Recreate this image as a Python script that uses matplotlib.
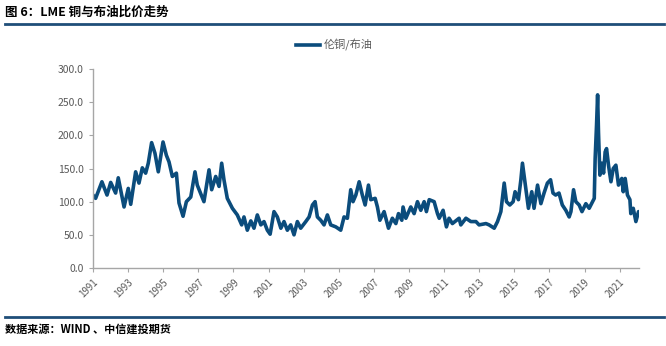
import matplotlib
matplotlib.use("Agg")
import matplotlib.pyplot as plt
from matplotlib.lines import Line2D

plt.rcParams['font.family'] = ['Noto Sans CJK SC', 'DejaVu Sans']

# LME copper / Brent ratio (decimal year, ratio)
years = [1991.00, 1991.15, 1991.51, 1991.80, 1992.01, 1992.29, 1992.44, 1992.77,
         1993.01, 1993.15, 1993.43, 1993.62, 1993.81, 1994.00, 1994.15, 1994.34,
         1994.53, 1994.72, 1994.99, 1995.18, 1995.33, 1995.52, 1995.75, 1995.90,
         1996.13, 1996.32, 1996.57, 1996.81, 1996.94, 1997.32, 1997.61, 1997.76,
         1997.99, 1998.18, 1998.33, 1998.46, 1998.65, 1998.94, 1999.22,
         1999.47, 1999.60, 1999.79, 1999.99, 2000.17, 2000.36, 2000.56, 2000.74,
         2000.93, 2001.09, 2001.31, 2001.50, 2001.70, 2001.88, 2002.07, 2002.26,
         2002.45, 2002.64, 2002.83, 2003.12, 2003.31, 2003.50, 2003.65, 2003.78,
         2003.97, 2004.16, 2004.35, 2004.54, 2004.83, 2005.11, 2005.30, 2005.49,
         2005.68, 2005.81, 2005.97, 2006.16, 2006.34, 2006.50, 2006.69, 2006.82,
         2007.07, 2007.20, 2007.34, 2007.58, 2007.83,
         2008.05, 2008.25, 2008.40, 2008.59, 2008.66, 2008.82, 2009.10, 2009.29,
         2009.48, 2009.67, 2009.86, 2009.99, 2010.15, 2010.43, 2010.62, 2010.72,
         2010.94, 2011.13, 2011.28, 2011.47, 2011.85, 2011.95, 2012.24, 2012.52,
         2012.81, 2012.99, 2013.38, 2013.56, 2013.85, 2014.04, 2014.23, 2014.42,
         2014.55, 2014.74, 2014.93, 2015.04, 2015.23, 2015.37, 2015.46, 2015.65,
         2015.80, 2015.99, 2016.12, 2016.32, 2016.51, 2016.69, 2016.88,
         2017.06, 2017.20, 2017.35, 2017.54, 2017.73, 2017.93, 2018.12, 2018.22,
         2018.37, 2018.50, 2018.69, 2018.85, 2019.07, 2019.26, 2019.45, 2019.55,
         2019.60, 2019.68, 2019.74, 2019.79, 2019.87, 2019.98, 2020.08, 2020.17,
         2020.25, 2020.36, 2020.50, 2020.63, 2020.78, 2020.93, 2021.12, 2021.20,
         2021.31, 2021.44, 2021.58, 2021.63, 2021.77, 2021.92, 2022.07, 2022.15]
ratio = [110, 105, 130, 110, 129, 113, 136, 92,
         120, 96, 145, 128, 151, 143, 158, 189,
         173, 145, 190, 170, 160, 138, 143, 98,
         78, 100, 107, 145, 125, 100, 148, 118,
         138, 123, 158, 133, 105, 90, 80,
         65, 77, 57, 71, 60, 80, 65, 70,
         57, 51, 85, 77, 60, 70, 57, 65,
         50, 70, 60, 70, 77, 95, 100, 77,
         72, 65, 80, 65, 62, 57, 77, 75,
         118, 100, 110, 130, 110, 95, 125, 103,
         105, 92, 72, 85, 60,
         75, 67, 82, 72, 92, 75, 92, 82,
         100, 87, 100, 85, 103, 100, 82, 75,
         87, 62, 75, 67, 75, 65, 75, 70,
         70, 65, 67, 65, 60, 70, 85, 128,
         100, 95, 100, 115, 103, 133, 158, 120,
         90, 115, 90, 125, 97, 113, 128,
         133, 113, 110, 113, 95, 87, 77, 85,
         118, 100, 95, 85, 97, 90, 100, 105,
         165, 216, 261, 205, 140, 158, 143, 175,
         180, 155, 130, 150, 155, 125, 135, 115,
         135, 110, 103, 82, 90, 70, 85, 82]

tick_years = list(range(1991, 2022, 2))
y_ticks = [0, 50, 100, 150, 200, 250, 300]

blue = '#0b4c7c'
grey = '#595959'
axis_grey = '#a6a6a6'

fig = plt.figure(figsize=(6.66, 3.46), dpi=100)
ax = fig.add_axes([0.1396, 0.2254, 0.8194, 0.5752])

ax.plot(years, ratio, color=blue, lw=2.6, label='伦铜/布油')

ax.set_xlim(1991.0, 2022.08)
ax.set_ylim(0, 300)
ax.set_yticks(y_ticks)
ax.set_yticklabels(['%.1f' % v for v in y_ticks], color=grey, fontsize=7.5)
ax.set_xticks(tick_years)
ax.set_xticklabels([str(y) for y in tick_years], color=grey, fontsize=7,
                   rotation=45, ha='right', rotation_mode='anchor')
ax.tick_params(axis='both', length=3, color=axis_grey, direction='out')
for s in ['top', 'right']:
    ax.spines[s].set_visible(False)
for s in ['left', 'bottom']:
    ax.spines[s].set_color(axis_grey)
    ax.spines[s].set_linewidth(1)

fig.legend(loc='center', bbox_to_anchor=(0.502, 0.87), frameon=False,
           fontsize=8, labelcolor=grey, handlelength=2.2, handletextpad=0.3)

# title and source
fig.text(0.008, 0.965, '图 6：LME 铜与布油比价走势', fontsize=9, fontweight='bold',
         va='center', ha='left', color='black')
fig.add_artist(Line2D([0.008, 0.997], [0.932, 0.932], color='#1f4e79', lw=2))
fig.add_artist(Line2D([0.008, 0.997], [0.083, 0.083], color='#1f4e79', lw=2))
fig.text(0.008, 0.048, '数据来源：WIND 、中信建投期货', fontsize=8, fontweight='bold',
         style='italic', va='center', ha='left', color='black')

fig.savefig('out.png', dpi=100)
